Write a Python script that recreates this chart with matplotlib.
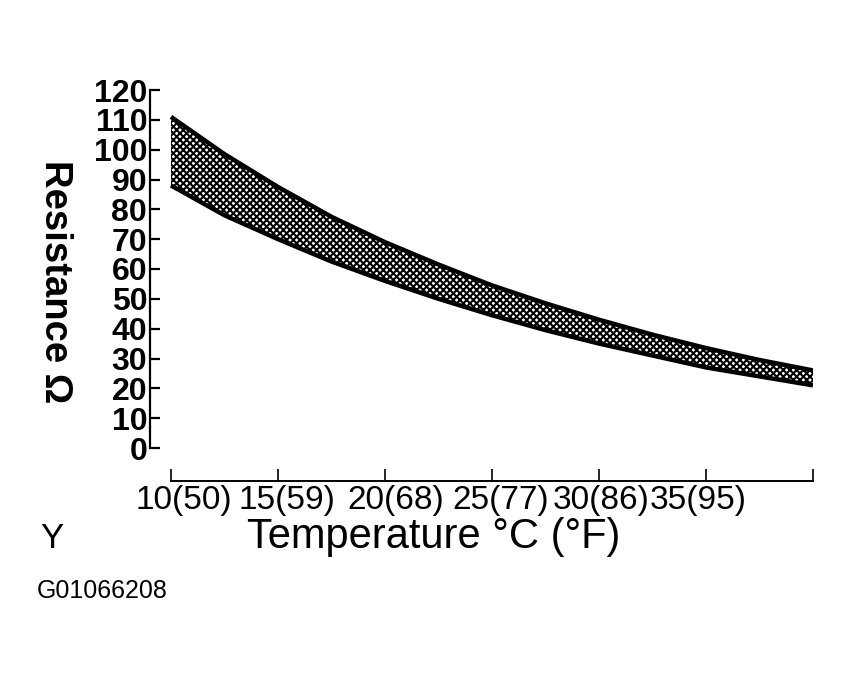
import matplotlib
matplotlib.use("Agg")
import matplotlib.pyplot as plt
from matplotlib.transforms import ScaledTranslation

# ---- data ----
temps_c = [10, 12.5, 15, 17.5, 20, 22.5, 25, 27.5, 30, 32.5, 35, 37.5, 40]
upper_ohm = [111, 98.5, 87.5, 77.5, 69, 61.5, 54.5, 48.5, 43, 38, 33.5, 29.5, 26]
lower_ohm = [88, 78, 70, 62.5, 56, 50, 44.5, 39.5, 35, 31, 27, 24, 21]

x_ticks = [10, 15, 20, 25, 30, 35, 40]
x_tick_labels = ["10(50)", "15(59)", "20(68)", "25(77)", "30(86)", "35(95)", ""]
y_ticks = list(range(0, 121, 10))
y_tick_labels = [str(v) for v in y_ticks]

plt.rcParams['hatch.linewidth'] = 1.5
plt.rcParams['hatch.color'] = 'black'

W, H = 852, 675
fig = plt.figure(figsize=(W / 100, H / 100), dpi=100)

# axes geometry in pixels
left_px, right_px, top_px, bottom_px = 150, 813, 90, 481
ax = fig.add_axes([left_px / W, 1 - bottom_px / H,
                   (right_px - left_px) / W, (bottom_px - top_px) / H])

px_per_deg = (813 - 171) / 30.0
px_per_ohm = (448 - 90) / 120.0
ax.set_xlim(10 - (171 - left_px) / px_per_deg, 40)
ax.set_ylim(-(bottom_px - 448) / px_per_ohm, 120)

ax.fill_between(temps_c, lower_ohm, upper_ohm, facecolor='white',
                edgecolor='black', hatch='xxxxx', linewidth=0)
ax.plot(temps_c, upper_ohm, color='black', lw=3.2, solid_capstyle='butt')
ax.plot(temps_c, lower_ohm, color='black', lw=3.2, solid_capstyle='butt')

for s in ['top', 'right']:
    ax.spines[s].set_visible(False)
ax.spines['left'].set_bounds(0, 120)
ax.spines['bottom'].set_bounds(10, 40)
ax.spines['left'].set_linewidth(1.6)
ax.spines['bottom'].set_linewidth(1.4)

ax.set_yticks(y_ticks)
ax.set_yticklabels(y_tick_labels, fontfamily='Liberation Sans',
                   fontweight='bold', fontsize=23)
ax.tick_params(axis='y', direction='in', length=7.5, width=1.6, pad=2)

ax.set_xticks(x_ticks)
ax.set_xticklabels(x_tick_labels, fontfamily='Liberation Sans', fontsize=24)
ax.tick_params(axis='x', direction='in', length=8.5, width=1.2, pad=3)

# shift x tick labels slightly as in the original
label_dx_px = [13, 9, 11, 9, 2, -8, 0]
for lab, dx in zip(ax.get_xticklabels(), label_dx_px):
    lab.set_transform(lab.get_transform() +
                      ScaledTranslation(dx / 100, 0, fig.dpi_scale_trans))

fig.text(55 / W, 1 - 282 / H, "Resistance Ω", rotation=270,
         ha='center', va='center', fontsize=27.5, fontweight='bold',
         family=['Liberation Sans'])
fig.text(434 / W, 1 - 548 / H, "Temperature °C (°F)", ha='center',
         va='baseline', fontsize=30, family=['Liberation Sans'])
fig.text(40 / W, 1 - 548 / H, "Y", ha='left', va='baseline', fontsize=25,
         family=['Liberation Sans'])
fig.text(37 / W, 1 - 598 / H, "G01066208", ha='left', va='baseline',
         fontsize=18, family=['Liberation Sans'])

fig.savefig("out.png", dpi=100, facecolor='white')
